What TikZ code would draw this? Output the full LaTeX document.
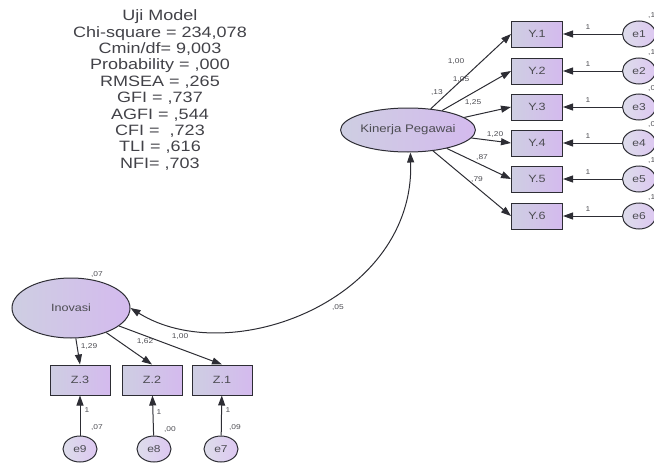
\documentclass[tikz,border=0pt]{standalone}
\usepackage{fontspec}
\setmainfont{Liberation Sans}[FakeStretch=1.2]
\usetikzlibrary{arrows.meta,shapes.geometric}

\definecolor{ink}{RGB}{45,45,52}
\definecolor{lavL}{RGB}{206,206,226}
\definecolor{lavR}{RGB}{212,186,238}

\tikzset{
  ind/.style={draw=ink, line width=1pt, rectangle, inner sep=0pt, left color=lavL, right color=lavR, text=ink!85, font=\fontsize{10.5}{11}\selectfont},
  err/.style={draw=ink, line width=1pt, ellipse, inner sep=0pt, minimum width=33pt, minimum height=26pt, left color=lavL!70!white, right color=lavR!80!white, text=ink!85, font=\fontsize{10}{10}\selectfont},
  lat/.style={draw=ink, line width=1pt, ellipse, inner sep=0pt, left color=lavL, right color=lavR, text=ink!85},
  path/.style={draw=ink, line width=1pt, -{Triangle[length=10pt,width=7pt]}},
  est/.style={text=ink!85, font=\fontsize{7}{7}\selectfont, inner sep=0pt}
}

\begin{document}
\begin{tikzpicture}[x=1pt, y=-1pt]
    \useasboundingbox (0,0) rectangle (654,463);
    % fit statistics
    \node[text=ink!90, align=center, font=\fontsize{15}{16.35}\selectfont] (fit) at (160,90)
        {Uji Model\\Chi-square = 234,078\\Cmin/df= 9,003\\Probability = ,000\\RMSEA = ,265\\GFI = ,737\\AGFI = ,544\\CFI = \ ,723\\TLI = ,616\\NFI= ,703};

    % Kinerja Pegawai
    \node[lat, minimum width=100pt, minimum height=44pt, font=\fontsize{11}{11}\selectfont] (kp) at (408,130) {Kinerja Pegawai};
    \node[ind, minimum width=51pt, minimum height=26pt] (y1) at (537,34) {Y.1};
    \node[ind, minimum width=51pt, minimum height=26pt] (y2) at (537,71) {Y.2};
    \node[ind, minimum width=51pt, minimum height=26pt] (y3) at (537,107) {Y.3};
    \node[ind, minimum width=51pt, minimum height=26pt] (y4) at (537,143) {Y.4};
    \node[ind, minimum width=51pt, minimum height=26pt] (y5) at (537,179) {Y.5};
    \node[ind, minimum width=51pt, minimum height=26pt] (y6) at (537,216) {Y.6};
    \node[err] (e1) at (639,34) {e1};
    \node[err] (e2) at (639,71) {e2};
    \node[err] (e3) at (639,107) {e3};
    \node[err] (e4) at (639,143) {e4};
    \node[err] (e5) at (639,179) {e5};
    \node[err] (e6) at (639,216) {e6};

    \draw[path] (kp) -- (y1.west);
    \draw[path] (kp) -- (y2.west);
    \draw[path] (kp) -- (y3.west);
    \draw[path] (kp) -- (y4.west);
    \draw[path] (kp) -- (y5.west);
    \draw[path] (kp) -- (y6.west);
    \draw[path] (e1) -- (y1);
    \draw[path] (e2) -- (y2);
    \draw[path] (e3) -- (y3);
    \draw[path] (e4) -- (y4);
    \draw[path] (e5) -- (y5);
    \draw[path] (e6) -- (y6);

    \node[est] (ly1) at (456,62) {1,00};
    \node[est] (ly2) at (461,80) {1,05};
    \node[est] (vkp) at (437,93) {,13};
    \node[est] (ly3) at (473,103) {1,25};
    \node[est] (ly4) at (495,135) {1,20};
    \node[est] (ly5) at (482,158) {,87};
    \node[est] (ly6) at (477,180) {,79};
    \node[est] (le1) at (588,27) {1};
    \node[est] (le2) at (588,64) {1};
    \node[est] (le3) at (588,100) {1};
    \node[est] (le4) at (588,136) {1};
    \node[est] (le5) at (588,172) {1};
    \node[est] (le6) at (588,209) {1};
    \node[est, anchor=west] (ve1) at (648,16) {,1};
    \node[est, anchor=west] (ve2) at (648,53) {,1};
    \node[est, anchor=west] (ve3) at (648,89) {,0};
    \node[est, anchor=west] (ve4) at (648,125) {,0};
    \node[est, anchor=west] (ve5) at (648,161) {,1};
    \node[est, anchor=west] (ve6) at (648,198) {,1};

    % Inovasi
    \node[lat, minimum width=118pt, minimum height=60pt, font=\fontsize{10.5}{11}\selectfont] (ino) at (71,308) {Inovasi};
    \node[ind, minimum width=60pt, minimum height=30pt] (z3) at (80,380) {Z.3};
    \node[ind, minimum width=60pt, minimum height=30pt] (z2) at (152,380) {Z.2};
    \node[ind, minimum width=60pt, minimum height=30pt] (z1) at (222,380) {Z.1};
    \node[err, minimum width=34pt] (e9) at (80,449) {e9};
    \node[err, minimum width=34pt] (e8) at (154,449) {e8};
    \node[err, minimum width=34pt] (e7) at (221,449) {e7};

    \draw[path] (ino) -- (z3.north);
    \draw[path] (ino) -- (z2.north);
    \draw[path] (ino) -- (z1.north);
    \draw[path] (e9) -- (z3);
    \draw[path] (e8) -- (z2);
    \draw[path] (e7) -- (z1);

    \node[est] (vino) at (97,275) {,07};
    \node[est] (lz3) at (89,347) {1,29};
    \node[est] (lz2) at (145,342) {1,62};
    \node[est] (lz1) at (180,337) {1,00};
    \node[est] (le9) at (87,410) {1};
    \node[est] (le8) at (159,412) {1};
    \node[est] (le7) at (228,410) {1};
    \node[est] (ve9) at (97,428) {,07};
    \node[est] (ve8) at (170,430) {,00};
    \node[est] (ve7) at (235,428) {,09};

    % covariance
    \draw[path, {Triangle[length=10pt,width=7pt]}-{Triangle[length=10pt,width=7pt]}] (kp.-84) .. controls (415,300) and (230,370) .. (ino.east);
    \node[est] (cov) at (338,308) {,05};
\end{tikzpicture}
\end{document}
